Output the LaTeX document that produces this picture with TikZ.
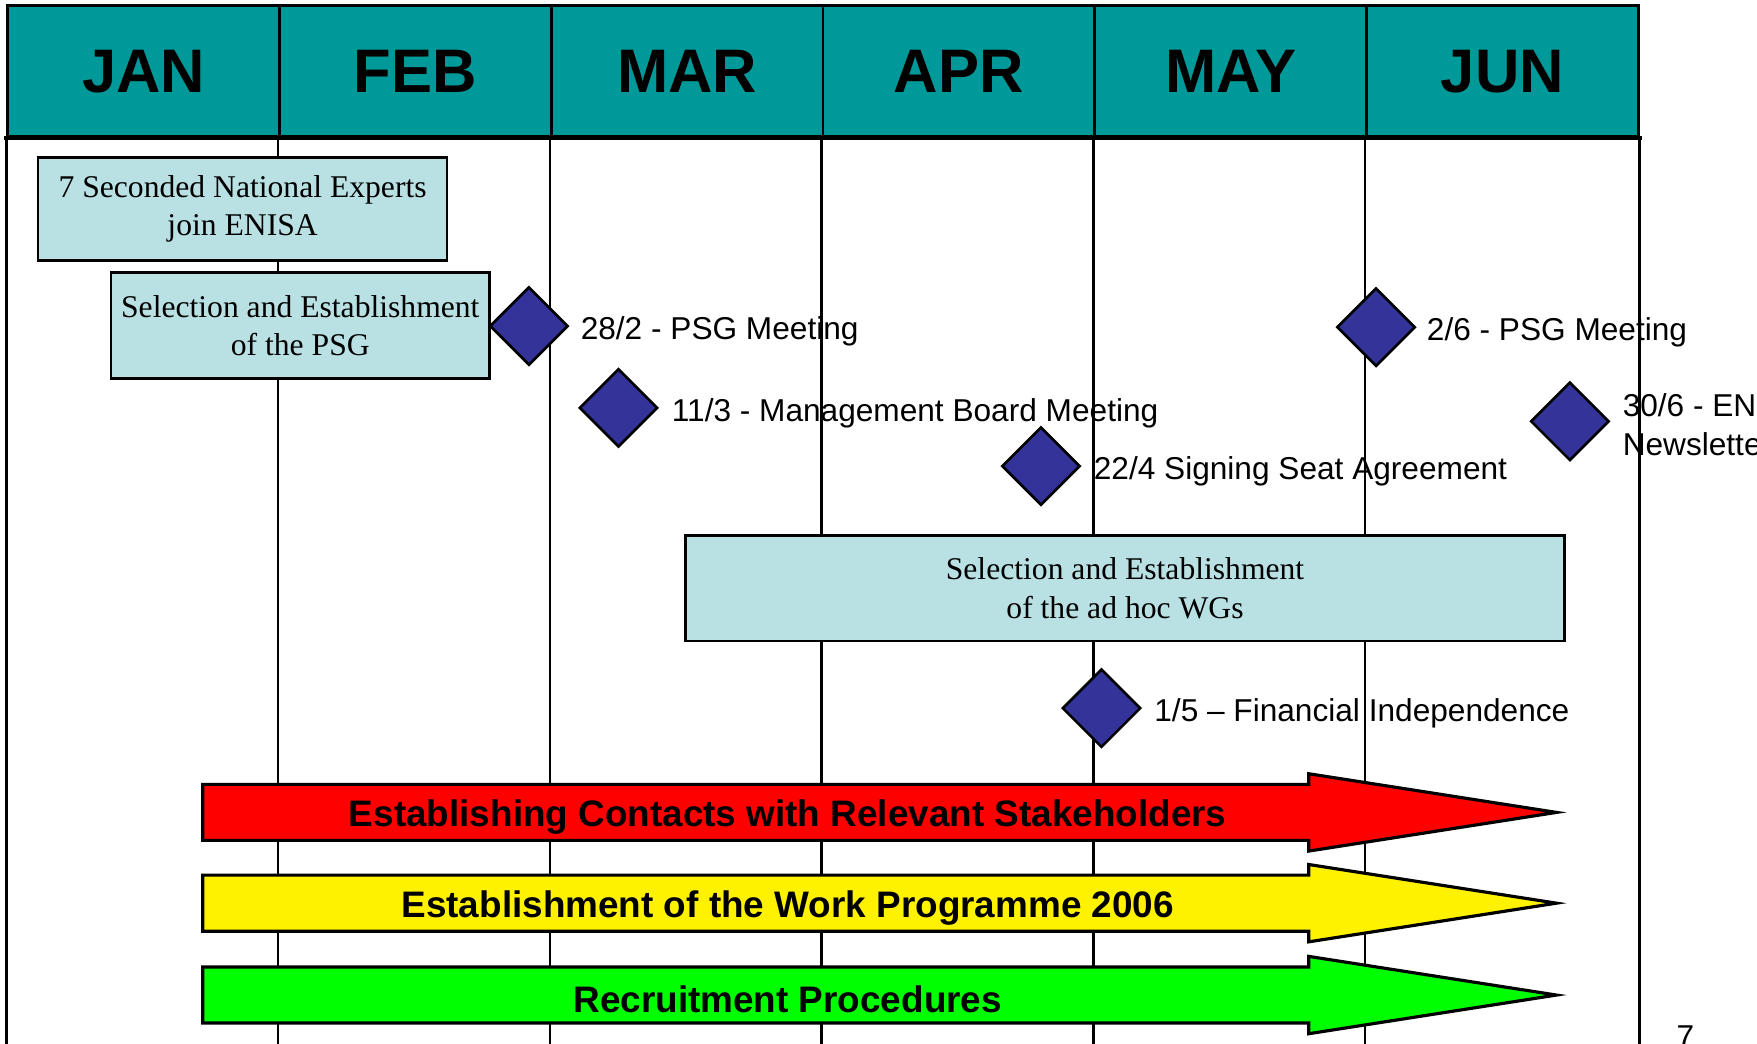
\documentclass[tikz,border=0pt]{standalone}
\usepackage{fontspec}
\setmainfont{Liberation Serif}
\newfontfamily\arialfont{Liberation Sans}
\usetikzlibrary{shapes.geometric,positioning}
\definecolor{headteal}{RGB}{0,153,153}
\definecolor{boxblue}{RGB}{185,224,227}
\definecolor{mstone}{RGB}{51,51,153}
\newcommand{\pxu}{0.02241cm}
\begin{document}
\begin{tikzpicture}[x=\pxu,y=-\pxu,
month/.style={draw,line width=1.6pt,fill=headteal,inner sep=0pt,
  minimum width=242.5*\pxu,minimum height=117*\pxu,
  font=\arialfont\bfseries\fontsize{35}{40}\selectfont},
gridline/.style={line width=1.5pt},
task/.style={draw,line width=1.5pt,fill=boxblue,align=center,inner sep=2pt,
  font=\fontsize{18}{21.7}\selectfont},
milestone/.style={diamond,draw,line width=1.5pt,fill=mstone,aspect=1,inner sep=0pt,
  minimum width=70*\pxu,minimum height=70*\pxu},
mlabel/.style={inner sep=0pt,align=left,yshift=-5*\pxu,
  font=\arialfont\fontsize{18}{21.7}\selectfont},
band/.style={draw,line width=1.8pt},
bandtext/.style={inner sep=0pt,yshift=-4*\pxu,font=\arialfont\bfseries\fontsize{21}{25}\selectfont}]
\useasboundingbox (0,0) rectangle (1568,931);
\clip (0,0) rectangle (1568,931);

% month header
\foreach \mon [count=\i] in {JAN,FEB,MAR,APR,MAY,JUN}
  \node[month] (m\i) at ({7+242.5*(\i-0.5)},63.5) {\mon};

\coordinate (bottom) at (0,945);
\foreach \i in {1,...,6}
  \draw[gridline] (m\i.south west) -- (m\i.south west |- bottom);
\draw[gridline] (m6.south east) -- (m6.south east |- bottom);
\draw[line width=2.2pt] ([xshift=-2*\pxu]m1.south west) -- ([xshift=2*\pxu]m6.south east);

% tasks
\node[task,minimum width=365*\pxu,minimum height=92*\pxu] (sne) at (216.5,186.5)
  {7 Seconded National Experts\\join ENISA};
\node[task,minimum width=338*\pxu,minimum height=95*\pxu] (psg) at (268,290.5)
  {Selection and Establishment\\of the PSG};
\node[task,minimum width=784*\pxu,minimum height=94*\pxu] (wgs) at (1004,525)
  {Selection and Establishment\\of the ad hoc WGs};

% milestones
\node[milestone] (d1) at (472,291) {};
\node[mlabel,right=0.22cm of d1] (l1) {28/2 - PSG Meeting};
\node[milestone] (d2) at (552,364) {};
\node[mlabel,right=0.25cm of d2] (l2) {11/3 - Management Board Meeting};
\node[milestone] (d3) at (929,416) {};
\node[mlabel,right=0.24cm of d3] (l3) {22/4 Signing Seat Agreement};
\node[milestone] (d4) at (1228,292) {};
\node[mlabel,right=0.2cm of d4] (l4) {2/6 - PSG Meeting};
\node[milestone] (d5) at (1401,376) {};
\node[mlabel,right=0.24cm of d5,yshift=2*\pxu] (l5) {30/6 - ENISA\\Newsletter};
\node[milestone] (d6) at (983,632) {};
\node[mlabel,right=0.24cm of d6] (l6) {1/5 – Financial Independence};

% activity arrows
\foreach \yy/\col/\txt [count=\i] in {725/red/Establishing Contacts with Relevant Stakeholders,
    806/yellow/Establishment of the Work Programme 2006,888/green/Recruitment Procedures}{
  \draw[band,fill=\col] (181,\yy-25) -- (1168,\yy-25) -- (1168,\yy-34.5) -- (1389,\yy)
    -- (1168,\yy+34.5) -- (1168,\yy+25) -- (181,\yy+25) -- cycle;
  \node[bandtext] (a\i) at (703,\yy) {\txt};
}

\node[inner sep=0pt,anchor=north,font=\arialfont\fontsize{18}{21.7}\selectfont] (pgno) at (1504,915) {7};
\end{tikzpicture}
\end{document}
